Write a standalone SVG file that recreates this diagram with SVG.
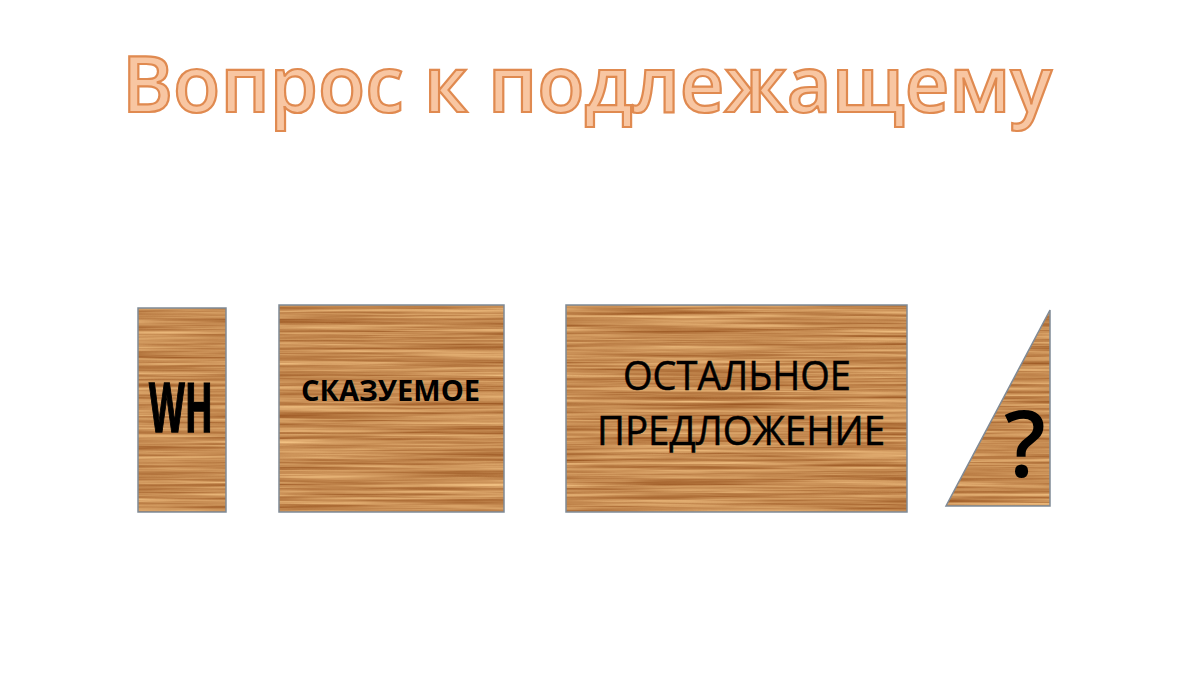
<svg xmlns="http://www.w3.org/2000/svg" width="1200" height="675" viewBox="0 0 1200 675">
<style>
.wood{filter:url(#woodgrain);}
.edge{fill:none;stroke:#7f8a96;stroke-width:1.5;}
.lbl{font-family:"Open Sans","Noto Sans","DejaVu Sans",sans-serif;fill:#000;}
.title{font-family:"Open Sans","Noto Sans","DejaVu Sans",sans-serif;font-weight:600;font-size:78px;fill:#f8c6a2;stroke:#e08a50;stroke-width:2.2;}
</style>
<defs>
<filter id="woodgrain" x="0" y="0" width="1" height="1" color-interpolation-filters="sRGB">
<feTurbulence type="fractalNoise" baseFrequency="0.005 0.32" numOctaves="4" seed="7" result="n"/>
<feColorMatrix in="n" type="matrix" values="-0.45 0 0 0 1.0  -0.55 0 0 0 0.82  -0.5 0 0 0 0.57  0 0 0 0 1" result="c"/>
<feComposite in="c" in2="SourceGraphic" operator="in"/>
</filter>
</defs>
<rect width="1200" height="675" fill="#ffffff"/>
<g id="title">
<text class="title" x="122" y="112" textLength="930" lengthAdjust="spacingAndGlyphs">Вопрос к подлежащему</text>
</g>
<g id="wh">
<rect class="wood" x="138" y="308" width="88" height="204" fill="#c8894f"/>
<rect class="edge" x="138" y="308" width="88" height="204"/>
<text class="lbl" x="181" y="432" text-anchor="middle" font-family="'DejaVu Sans Condensed','DejaVu Sans',sans-serif" font-weight="bold" font-size="68" stroke="#000" stroke-width="1.5" textLength="64" lengthAdjust="spacingAndGlyphs">WH</text>
</g>
<g id="skazuemoe">
<rect class="wood" x="279" y="305" width="225" height="207" fill="#c8894f"/>
<rect class="edge" x="279" y="305" width="225" height="207"/>
<text class="lbl" x="301" y="401" font-weight="bold" font-size="28" textLength="179" lengthAdjust="spacingAndGlyphs">СКАЗУЕМОЕ</text>
</g>
<g id="ostalnoe">
<rect class="wood" x="566" y="305" width="341" height="207" fill="#c8894f"/>
<rect class="edge" x="566" y="305" width="341" height="207"/>
<text class="lbl" x="623" y="390" font-size="40" stroke="#000" stroke-width="0.5" textLength="228" lengthAdjust="spacingAndGlyphs">ОСТАЛЬНОЕ</text>
<text class="lbl" x="597" y="445" font-size="40" stroke="#000" stroke-width="0.5" textLength="288" lengthAdjust="spacingAndGlyphs">ПРЕДЛОЖЕНИЕ</text>
</g>
<g id="question">
<polygon class="wood" points="1050,310 946,506 1050,506" fill="#c8894f"/>
<polygon class="edge" points="1050,310 946,506 1050,506"/>
<text class="lbl" x="1025" y="477" text-anchor="middle" font-size="92" font-weight="600">?</text>
</g>
<g id="connectors"></g>
</svg>
